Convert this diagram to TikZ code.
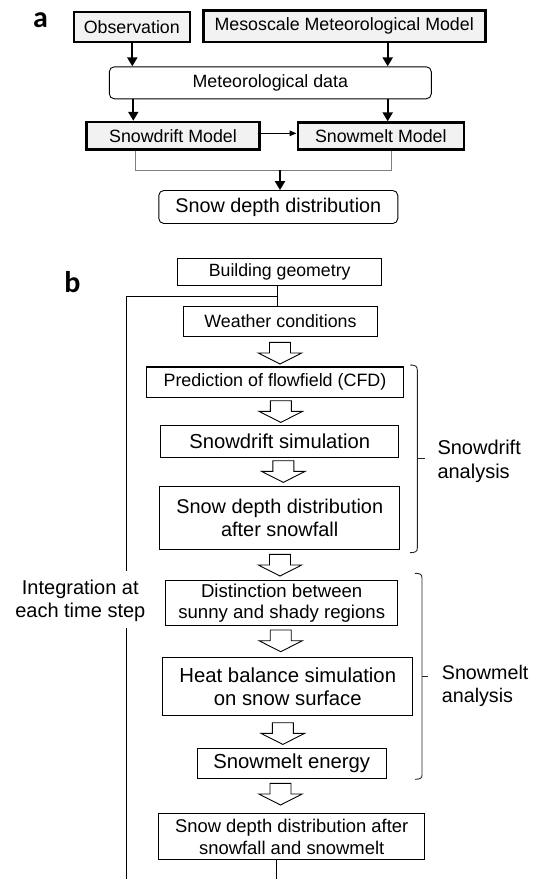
\documentclass[tikz,border=0pt]{standalone}
\usepackage{fontspec}
\setmainfont{Liberation Sans}
\newfontfamily\labfont{Carlito}
\usetikzlibrary{arrows.meta,calc}
\definecolor{boxgray}{HTML}{F2F2F2}
\definecolor{linegray}{HTML}{7F7F7F}
\newcommand\fsz[2]{\fontsize{#1}{#2}\selectfont}
\begin{document}
\begin{tikzpicture}[x=1pt,y=-1pt,
  tbox/.style={draw, line width=2.6pt, fill=boxgray, inner sep=0pt, font=\fsz{17.8}{20}},
  rbox/.style={draw, line width=0.9pt, rounded corners=5pt, inner sep=0pt},
  bbox/.style={draw, line width=1.1pt, inner sep=0pt, align=center},
  tarrow/.style={line width=2.2pt, -{Triangle[length=9pt,width=10pt]}},
  sarrow/.style={line width=1.3pt, -{Triangle[length=7pt,width=5.5pt]}},
  gline/.style={line width=1pt, draw=linegray},
  bline/.style={line width=1pt},
  brk/.style={line width=0.9pt, draw=black!85},
  lab/.style={font=\labfont\bfseries\fsz{30}{30}, inner sep=0pt},
  harrow/.pic={\draw[line width=0.9pt, fill=white, line join=miter]
     (-10.5,0) -- (10.5,0) -- (10.5,10.7) -- (21.7,10.7) -- (0,21.7)
     -- (-21.7,10.7) -- (-10.5,10.7) -- cycle;}
]
\useasboundingbox[fill=white] (0,0) rectangle (538,879);

% ---------- part a ----------
\node[lab] (la) at (40.5,20.5) {a};
\node[tbox, minimum width=116, minimum height=30] (obs) at (131.8,27) {Observation};
\node[tbox, minimum width=282, minimum height=31.5] (meso) at (344.2,26.3) {Mesoscale Meteorological Model};
\node[rbox, minimum width=322, minimum height=32, font=\fsz{17.8}{20}] (met) at (270.3,82.8) {Meteorological data};
\node[tbox, minimum width=173.5, minimum height=27.5] (sdm) at (173,135.8) {Snowdrift Model};
\node[tbox, minimum width=166, minimum height=27] (smm) at (380.8,136.1) {Snowmelt Model};
\node[rbox, minimum width=239, minimum height=33, font=\fsz{19.8}{22}] (sdd) at (278.3,207) {Snow depth distribution};

\draw[tarrow] (obs.south -| 132.3,0) -- (met.north -| 132.3,0);
\draw[tarrow] (meso.south -| 387.7,0) -- (met.north -| 387.7,0);
\draw[tarrow] (met.south -| 133.3,0) -- (sdm.north -| 133.3,0);
\draw[tarrow] (met.south -| 387.7,0) -- (smm.north -| 387.7,0);
\draw[sarrow] (sdm.east |- 0,133.3) -- (smm.west |- 0,133.3);
\coordinate (jl) at (135.7,170);
\coordinate (jr) at (391.7,170);
\coordinate (jn) at (280,170);
\draw[gline] (sdm.south -| jl) -- (jl) -- (jr) -- (smm.south -| jr);
\draw[tarrow] (jn) -- (sdd.north -| jn);

% ---------- part b ----------
\node[lab] (lb) at (72.5,282.5) {b};
\node[bbox, minimum width=204, minimum height=27.5, font=\fsz{17.7}{20}] (bg) at (279.7,271.8) {Building geometry};
\node[bbox, minimum width=193.5, minimum height=29.7, font=\fsz{17.8}{20}] (wc) at (280.5,321.3) {Weather conditions};
\node[bbox, minimum width=257.6, minimum height=30.2, font=\fsz{17.9}{20}] (pf) at (275,382.1) {Prediction of flowfield (CFD)};
\node[bbox, minimum width=238.3, minimum height=31.7, font=\fsz{20.2}{23}] (ss) at (279.7,441.3) {Snowdrift simulation};
\node[bbox, minimum width=239.7, minimum height=63, font=\fsz{19.9}{22.5}] (sa) at (279.7,518) {Snow depth distribution\\after snowfall};
\node[bbox, minimum width=232.3, minimum height=45, font=\fsz{18.6}{20.5}] (ds) at (281.7,603) {Distinction between\\sunny and shady regions};
\node[bbox, minimum width=250, minimum height=57.7, font=\fsz{20.3}{23.4}] (hb) at (287.8,686.7) {Heat balance simulation\\on snow surface};
\node[bbox, minimum width=189, minimum height=30.6, font=\fsz{20.3}{23}] (se) at (291.7,763.5) {Snowmelt energy};
\node[bbox, minimum width=265.7, minimum height=45.7, font=\fsz{18.4}{21.5}] (fd) at (291.7,836.7) {Snow depth distribution after\\snowfall and snowmelt};

\pic at (280,342.3) {harrow};
\pic at (280.8,400.7) {harrow};
\pic at (283.3,460.7) {harrow};
\pic at (280,554.3) {harrow};
\pic at (280.7,630) {harrow};
\pic at (282.8,722.7) {harrow};
\pic at (280.5,783.3) {harrow};

\node[align=center, inner sep=0pt, font=\fsz{20}{23.5}] (integ) at (80.3,601) {Integration at\\each time step};
\node[align=left, anchor=west, inner sep=0pt, font=\fsz{20}{23.5}] (sdan) at (437.3,461.5) {Snowdrift\\analysis};
\node[align=left, anchor=west, inner sep=0pt, font=\fsz{19.7}{23.5}] (sman) at (441.7,686) {Snowmelt\\analysis};

\coordinate (jb) at (277.7,296.7);
\coordinate (lt) at (126.7,296.7);
\coordinate (lg1) at (126.7,570.7);
\coordinate (lg2) at (126.7,628.3);
\coordinate (lend) at (126.7,879);
\coordinate (fend) at (276.7,879);
\draw[bline] (bg.south -| jb) -- (wc.north -| jb);
\draw[bline] (jb) -- (lt) -- (lg1);
\draw[bline] (lg2) -- (lend);
\draw[bline] (fd.south -| fend) -- (fend);

% brackets
\draw[brk] (410,365) .. controls (415,365) and (417.3,366) .. (417.3,370) -- (417.3,548)
  .. controls (417.3,551.7) and (415,552.7) .. (410,552.7);
\draw[brk] (417.3,458.5) -- (425,458.5);
\draw[brk] (415,573.3) .. controls (420,573.3) and (422,574.3) .. (422,578) -- (422,775)
  .. controls (422,778.3) and (420,779.3) .. (415,779.3);
\draw[brk] (422,676) -- (427.7,676);
\end{tikzpicture}
\end{document}
